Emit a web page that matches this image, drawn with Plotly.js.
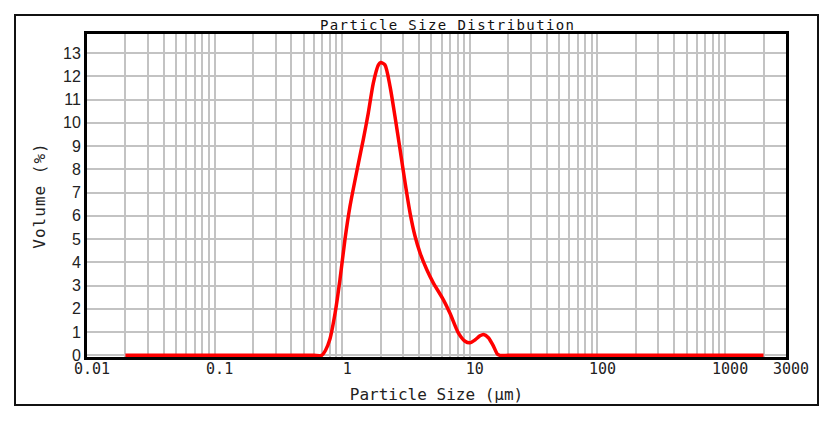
<!DOCTYPE html>
<html><head><meta charset="utf-8">
<script src="https://cdn.plot.ly/plotly-3.0.1.min.js"></script>
<style>
html,body{margin:0;padding:0;background:#fff;}
#wrap{position:relative;width:827px;height:422px;}
#chart{width:827px;height:422px;}
#frame{position:absolute;left:14px;top:14px;width:801px;height:388px;border:2px solid #111;pointer-events:none;}
.gtitle{letter-spacing:1.4px;}
.ytitle{letter-spacing:1px;}
</style></head>
<body><div id="wrap"><div id="chart"></div><div id="frame"></div></div>
<script>
// Particle size (µm) and volume (%)
const sizes   = [0.02, 0.05, 0.1, 0.2, 0.4, 0.6, 0.69, 0.74, 0.80, 0.88, 0.96, 1.05, 1.15, 1.34, 1.46, 1.60, 1.75, 1.92, 2.00, 2.16, 2.37, 2.59, 2.84, 3.11, 3.40, 3.72, 4.07, 4.59, 5.17, 6.19, 7.00, 8.12, 9.17, 10.0, 10.96, 12.0, 12.8, 13.97, 15.3, 16.4, 17.2, 20, 50, 100, 300, 1000, 2000];
const volumes = [0,    0,    0,   0,   0,   0,   0,    0.22, 0.69, 1.83, 3.26, 4.98, 6.41, 8.27, 9.27, 10.42, 11.70, 12.49, 12.59, 12.49, 11.56, 10.27, 8.84, 7.41, 6.12, 5.12, 4.41, 3.69, 3.12, 2.40, 1.80, 0.97, 0.61, 0.54, 0.66, 0.84, 0.90, 0.76, 0.40, 0.06, 0, 0, 0, 0, 0, 0, 0];

const xTickVals = [0.01, 0.1, 1, 10, 100, 1000, 3000];
const xTickText = ['0.01', '0.1', '1', '10', '100', '1000', '3000'];
const yTickVals = [0,1,2,3,4,5,6,7,8,9,10,11,12,13];
const decades = [0.01, 0.1, 1, 10, 100, 1000];
const minorGrid = [];
decades.forEach(d => { for (let k = 2; k <= 9; k++) { const v = +(k * d).toPrecision(3); if (v < 3000) minorGrid.push(v); } });

const gridCol = '#c3c3c3';
const trace = {
  x: sizes, y: volumes, type: 'scatter', mode: 'lines',
  line: {color: '#ff0000', width: 3.5, shape: 'spline', smoothing: 0.7},
  hoverinfo: 'x+y'
};

const layout = {
  width: 827, height: 422,
  margin: {l: 87, r: 41, t: 34, b: 65},
  paper_bgcolor: '#ffffff', plot_bgcolor: '#ffffff',
  showlegend: false,
  title: {text: 'Particle Size Distribution', font: {family: 'DejaVu Sans Mono', size: 14, color: '#111'},
          x: 0.516, xref: 'paper', xanchor: 'center', y: 1 - 25/422, yref: 'container', yanchor: 'middle'},
  xaxis: {
    type: 'log', range: [Math.log10(0.01), Math.log10(3000)],
    tickvals: xTickVals, ticktext: xTickText, ticks: '', ticklabelshift: 5, ticklabelstandoff: -4,
    tickfont: {family: 'DejaVu Sans Mono', size: 15, color: '#222'},
    showgrid: true, gridcolor: gridCol, gridwidth: 2,
    minor: {tickvals: minorGrid, showgrid: true, gridcolor: gridCol, gridwidth: 2, ticks: ''},
    showline: true, mirror: true, linecolor: '#000', linewidth: 3,
    zeroline: false, layer: 'below traces',
    title: {text: 'Particle Size (μm)', font: {family: 'DejaVu Sans Mono', size: 16, color: '#222'}, standoff: 12}
  },
  yaxis: {
    range: [-0.07, 13.82], tickvals: yTickVals, ticks: '',
    tickfont: {family: 'Liberation Sans', size: 16, color: '#222'},
    showgrid: true, gridcolor: gridCol, gridwidth: 2,
    showline: true, mirror: true, linecolor: '#000', linewidth: 3,
    zeroline: false, layer: 'below traces',
    title: {text: 'Volume (%)', font: {family: 'DejaVu Sans Mono', size: 16, color: '#222'}, standoff: 14}
  }
};

Plotly.newPlot('chart', [trace], layout, {staticPlot: true, displayModeBar: false});
</script></body></html>
